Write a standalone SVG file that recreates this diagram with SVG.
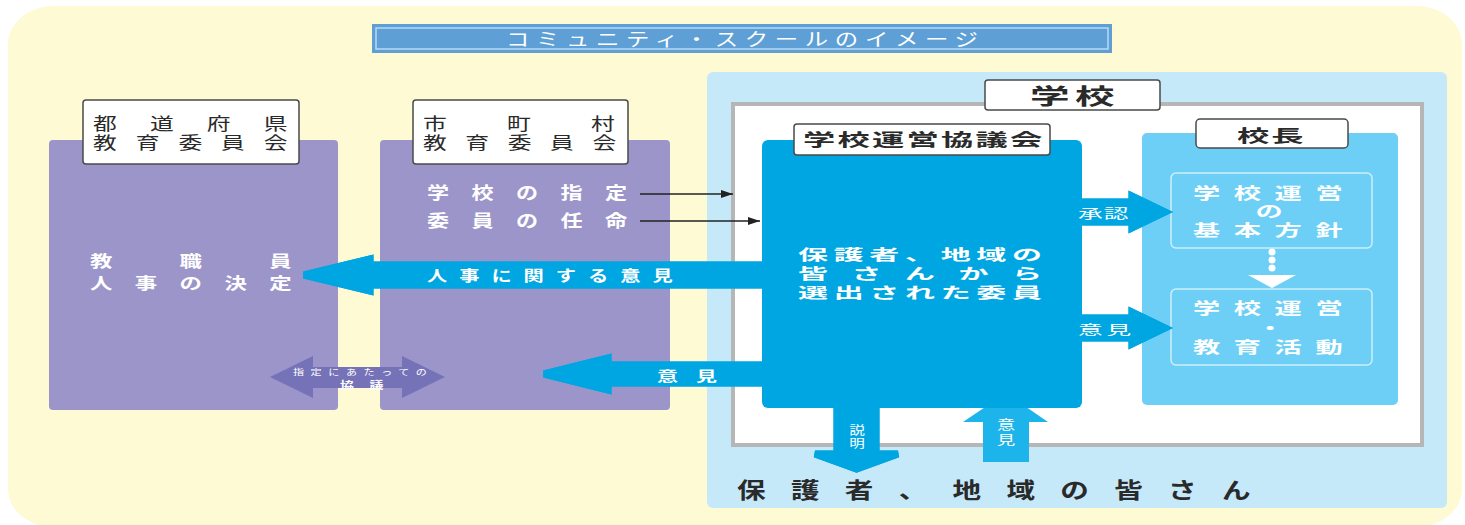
<svg xmlns="http://www.w3.org/2000/svg" width="1465" height="525" viewBox="0 0 1465 525">
<defs>
<style>
.t{font-family:"Noto Sans CJK JP","Noto Sans",sans-serif;}
.w{fill:#fff;}
.k{fill:#2a2a2a;}
.b{font-weight:bold;}
.lbl{fill:#fff;stroke:#4a4a4a;stroke-width:1.5;}
.pur{fill:#9C95C9;}
.sub{fill:#6DCFF5;stroke:#CDEFFC;stroke-width:1.5;}
.thin{stroke:#222;stroke-width:1.3;fill:none;}
</style>
<marker id="ah" markerUnits="userSpaceOnUse" markerWidth="12" markerHeight="8" refX="12" refY="4" orient="auto">
<path d="M0,0 L12,4 L0,8 Z" fill="#222"/>
</marker>
</defs>
<rect width="1465" height="525" fill="#fff"/>
<rect x="8" y="6" width="1454" height="521" rx="45" ry="38" fill="#FEFAD4"/>

<g id="title">
<rect x="372" y="24" width="740" height="29" fill="#5E9FD6"/>
<rect x="376" y="28" width="732" height="21" fill="none" stroke="#B9D9F2" stroke-width="1.5"/>
<text class="t w" font-size="18" transform="translate(506,45.5) scale(1.3,1)" textLength="363" lengthAdjust="spacing">コミュニティ・スクールのイメージ</text>
</g>

<g id="pref">
<rect class="pur" x="49" y="140" width="289" height="270" rx="4"/>
<rect class="lbl" x="83" y="100" width="216" height="64" rx="3"/>
<text class="t k" font-size="17" transform="translate(93,130) scale(1.4,1)" textLength="139" lengthAdjust="spacing">都道府県</text>
<text class="t k" font-size="17" transform="translate(93,149) scale(1.4,1)" textLength="139" lengthAdjust="spacing">教育委員会</text>
<text class="t w b" font-size="16" transform="translate(90,267) scale(1.4,1)" textLength="144" lengthAdjust="spacing">教職員</text>
<text class="t w b" font-size="16" transform="translate(90,289) scale(1.4,1)" textLength="144" lengthAdjust="spacing">人事の決定</text>
</g>

<g id="city">
<rect class="pur" x="380" y="140" width="290" height="270" rx="4"/>
<rect class="lbl" x="413" y="100" width="215" height="64" rx="3"/>
<text class="t k" font-size="17" transform="translate(423,130) scale(1.4,1)" textLength="137" lengthAdjust="spacing">市町村</text>
<text class="t k" font-size="17" transform="translate(423,149) scale(1.4,1)" textLength="138" lengthAdjust="spacing">教育委員会</text>
<text class="t w b" font-size="17" transform="translate(427,199) scale(1.3,1)" textLength="154" lengthAdjust="spacing">学校の指定</text>
<text class="t w b" font-size="17" transform="translate(427,227) scale(1.3,1)" textLength="154" lengthAdjust="spacing">委員の任命</text>
</g>

<g id="school-area">
<rect x="707" y="72" width="740" height="436" rx="6" fill="#C6E9FA"/>
<rect x="733" y="104" width="689" height="341" fill="#fff" stroke="#B6B6B6" stroke-width="4"/>
<rect class="lbl" x="985" y="80" width="175" height="30" rx="3"/>
<text class="t k b" font-size="22" transform="translate(1030,104) scale(1.8,1)" textLength="47" lengthAdjust="spacing">学校</text>
<text class="t k b" font-size="22" transform="translate(737,498) scale(1.3,1)" textLength="395" lengthAdjust="spacing">保護者、地域の皆さん</text>
</g>

<g id="principal">
<rect x="1142" y="133" width="256" height="272" rx="5" fill="#6DCFF5"/>
<rect class="lbl" x="1196" y="119" width="152" height="29" rx="4"/>
<text class="t k b" font-size="17" transform="translate(1237,142) scale(1.9,1)" textLength="35" lengthAdjust="spacing">校長</text>
<rect class="sub" x="1171" y="173" width="201" height="75" rx="5"/>
<text class="t w b" font-size="16" transform="translate(1193,199) scale(1.7,1)" textLength="88" lengthAdjust="spacing">学校運営</text>
<text class="t w b" font-size="16" text-anchor="middle" transform="translate(1269,217) scale(1.7,1)">の</text>
<text class="t w b" font-size="16" transform="translate(1193,236) scale(1.7,1)" textLength="88" lengthAdjust="spacing">基本方針</text>
<circle cx="1272" cy="252" r="3.5" fill="#fff"/>
<circle cx="1272" cy="260" r="3.5" fill="#fff"/>
<circle cx="1272" cy="268" r="3.5" fill="#fff"/>
<path d="M1248,275 L1296,275 L1272,288 Z" fill="#fff"/>
<rect class="sub" x="1171" y="289" width="201" height="76" rx="5"/>
<text class="t w b" font-size="16" transform="translate(1193,314) scale(1.7,1)" textLength="88" lengthAdjust="spacing">学校運営</text>
<text class="t w b" font-size="16" text-anchor="middle" transform="translate(1270,334) scale(1.7,1)">・</text>
<text class="t w b" font-size="16" transform="translate(1193,353) scale(1.7,1)" textLength="88" lengthAdjust="spacing">教育活動</text>
</g>

<g id="connectors">
<path d="M983,462 L983,422 L963,422 L1006,393 L1048,422 L1029,422 L1029,462 Z" fill="#1DB4EC"/>
<text class="t w" font-size="13" text-anchor="middle" transform="translate(1006,0) scale(1.4,1)"><tspan x="0" y="429">意</tspan><tspan x="0" y="444">見</tspan></text>
<line class="thin" x1="640" y1="194" x2="733" y2="194" marker-end="url(#ah)"/>
<line class="thin" x1="640" y1="221" x2="760" y2="221" marker-end="url(#ah)"/>
<path d="M270,377 L313,356 L313,367 L402,367 L402,356 L445,377 L402,398 L402,388 L313,388 L313,398 Z" fill="#7672B8"/>
<text class="t w" font-size="8.5" transform="translate(293,375) scale(1.3,1)" textLength="103" lengthAdjust="spacing">指定にあたっての</text>
<text class="t w b" font-size="10" transform="translate(340,389) scale(1.4,1)" textLength="31" lengthAdjust="spacing">協議</text>
</g>

<g id="council">
<rect x="762" y="140" width="320" height="268" rx="6" fill="#00A6E2"/>
<path id="cpath" d="M769,152 Q769,147 774,147 L1070,147 Q1075,147 1075,152 L1075,202 L1132,202 L1132,196 L1165,212 L1132,228 L1132,222 L1075,222 L1075,318 L1132,318 L1132,312 L1165,328 L1132,344 L1132,338 L1075,338 L1075,397 Q1075,402 1070,402 L876,402 L876,454 L898,454 L856.5,469 L815,454 L837,454 L837,402 L774,402 Q769,402 769,397 L769,383 L608,383 L608,390 L544,374 L608,358 L608,365 L769,365 L769,285 L370,285 L370,291 L304,275 L370,259 L370,265 L769,265 Z" fill="#00A6E2" stroke="#00A6E2" stroke-width="7"/>
<use href="#cpath" fill="none" stroke="#E6F6FD" stroke-width="1.6"/>
<rect class="lbl" x="794" y="124" width="256" height="31" rx="3"/>
<text class="t k b" font-size="17" transform="translate(803,146) scale(1.9,1)" textLength="126" lengthAdjust="spacing">学校運営協議会</text>
<text class="t w b" font-size="15" transform="translate(798,260) scale(2.0,1)" textLength="122" lengthAdjust="spacing">保護者、地域の</text>
<text class="t w b" font-size="15" transform="translate(798,279) scale(2.0,1)" textLength="122" lengthAdjust="spacing">皆さんから</text>
<text class="t w b" font-size="15" transform="translate(798,298) scale(2.0,1)" textLength="122" lengthAdjust="spacing">選出された委員</text>
<text class="t w b" font-size="15" transform="translate(427,281) scale(1.35,1)" textLength="182" lengthAdjust="spacing">人事に関する意見</text>
<text class="t w b" font-size="14" transform="translate(657,381) scale(1.5,1)" textLength="40" lengthAdjust="spacing">意見</text>
<text class="t w" font-size="13" transform="translate(1078,218) scale(1.9,1)" textLength="26.5" lengthAdjust="spacing">承認</text>
<text class="t w" font-size="13" transform="translate(1078,334) scale(1.9,1)" textLength="28" lengthAdjust="spacing">意見</text>
<text class="t w" font-size="12" text-anchor="middle" transform="translate(857,0) scale(1.3,1)"><tspan x="0" y="435">説</tspan><tspan x="0" y="448">明</tspan></text>
</g>
</svg>
